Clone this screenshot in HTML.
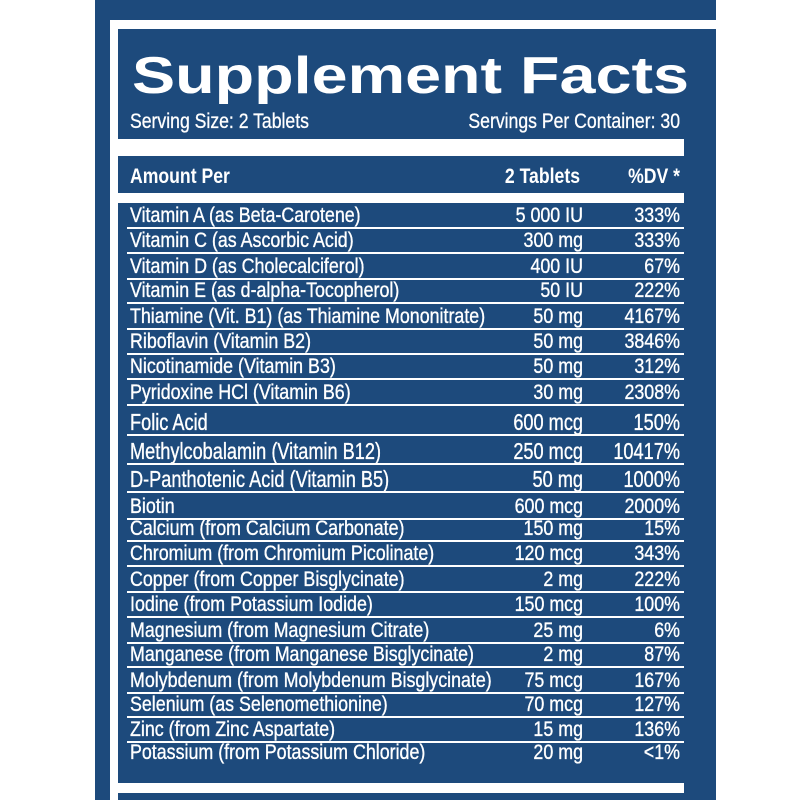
<!DOCTYPE html>
<html><head><meta charset="utf-8"><style>
html,body{margin:0;padding:0;background:#fff;width:800px;height:800px;overflow:hidden}
svg{display:block}
text{font-family:"Liberation Sans",sans-serif;fill:#fff}
#rows text{stroke:#fff;stroke-width:0.35}
</style></head><body>
<svg width="800" height="800" xmlns="http://www.w3.org/2000/svg">
<rect x="95" y="0" width="621" height="800" fill="#1d4a7c"/>
<rect x="110" y="20" width="606" height="9" fill="#fff"/>
<rect x="110" y="20" width="8" height="780" fill="#fff"/>
<text x="132" y="93" font-size="52" font-weight="bold" textLength="557" lengthAdjust="spacingAndGlyphs">Supplement Facts</text>
<g font-size="21" stroke="#fff" stroke-width="0.3">
<text transform="translate(130,128) scale(0.84,1)">Serving Size: 2 Tablets</text>
<text transform="translate(680,128) scale(0.84,1)" text-anchor="end">Servings Per Container: 30</text>
</g>
<rect x="118" y="139" width="566" height="17" fill="#fff"/>
<g font-size="21" font-weight="bold">
<text transform="translate(130,183) scale(0.84,1)">Amount Per</text>
<text transform="translate(580,183) scale(0.84,1)" text-anchor="end">2 Tablets</text>
<text transform="translate(680,183) scale(0.84,1)" text-anchor="end">%DV *</text>
</g>
<rect x="118" y="193" width="566" height="10" fill="#fff"/>
<rect x="118" y="783" width="566" height="10" fill="#fff"/>
<g id="rows"></g>
</svg>
<script>
var d=[
["Vitamin A (as Beta-Carotene)","5 000 IU","333%",215],
["Vitamin C (as Ascorbic Acid)","300 mg","333%",240],
["Vitamin D (as Cholecalciferol)","400 IU","67%",266],
["Vitamin E (as d-alpha-Tocopherol)","50 IU","222%",290],
["Thiamine (Vit. B1) (as Thiamine Mononitrate)","50 mg","4167%",316],
["Riboflavin (Vitamin B2)","50 mg","3846%",341],
["Nicotinamide (Vitamin B3)","50 mg","312%",366],
["Pyridoxine HCl (Vitamin B6)","30 mg","2308%",392],
["Folic Acid","600 mcg","150%",422],
["Methylcobalamin (Vitamin B12)","250 mcg","10417%",451],
["D-Panthotenic Acid (Vitamin B5)","50 mg","1000%",479],
["Biotin","600 mcg","2000%",506],
["Calcium (from Calcium Carbonate)","150 mg","15%",528],
["Chromium (from Chromium Picolinate)","120 mcg","343%",553],
["Copper (from Copper Bisglycinate)","2 mg","222%",579],
["Iodine (from Potassium Iodide)","150 mcg","100%",604],
["Magnesium (from Magnesium Citrate)","25 mg","6%",630],
["Manganese (from Manganese Bisglycinate)","2 mg","87%",654],
["Molybdenum (from Molybdenum Bisglycinate)","75 mcg","167%",680],
["Selenium (as Selenomethionine)","70 mcg","127%",704],
["Zinc (from Zinc Aspartate)","15 mg","136%",729],
["Potassium (from Potassium Chloride)","20 mg","<1%",752]];
var g=document.getElementById('rows'),ns="http://www.w3.org/2000/svg";
function t(x,y,s,anc,fs,sx){var e=document.createElementNS(ns,'text');e.setAttribute('transform','translate('+x+','+y+') scale('+sx+',1)');if(anc)e.setAttribute('text-anchor','end');e.setAttribute('font-size',fs);e.textContent=s;g.appendChild(e);}
d.forEach(function(r,i){
 var big=(i>=8&&i<=10),fs=big?23:21,sx=big?0.79:0.85,y=r[3]+(big?8:7);
 t(130,y,r[0],0,fs,sx);t(583,y,r[1],1,fs,sx);t(680,y,r[2],1,fs,sx);
 if(i<d.length-1){var ly=r[3]+12;var L=document.createElementNS(ns,'rect');L.setAttribute('x',127);L.setAttribute('y',ly);L.setAttribute('width',557);L.setAttribute('height',2);L.setAttribute('fill','#fff');g.appendChild(L);}
});
</script>
</body></html>
